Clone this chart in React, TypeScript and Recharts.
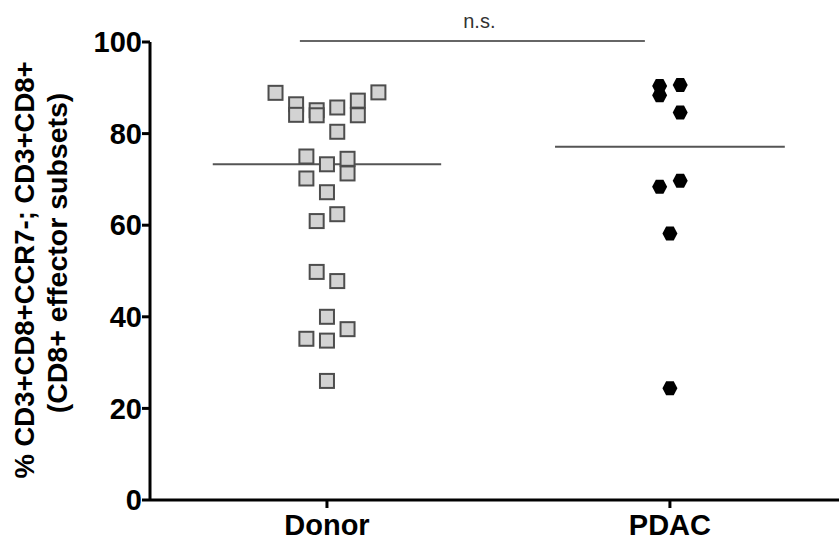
import { ComposedChart, Scatter, XAxis, YAxis, ReferenceLine, Label } from 'recharts'

const categories = ['Donor', 'PDAC']
const yTicks = [0, 20, 40, 60, 80, 100]
const yLabelLines = ['% CD3+CD8+CCR7-; CD3+CD8+', '(CD8+ effector subsets)']
const significance = 'n.s.'

// % values per subject, with the horizontal jitter slot each marker sits in
const donorValues = [
  88.9, 86.4, 84.1, 75.0, 70.2, 35.2, 85.1, 84.0, 60.9, 49.8, 73.3, 67.2, 40.0,
  34.8, 26.0, 85.7, 80.4, 62.4, 47.8, 74.5, 71.3, 37.3, 87.2, 84.0, 89.0,
]
const donorJitter = [-5, -3, -3, -2, -2, -2, -1, -1, -1, -1, 0, 0, 0, 0, 0, 1, 1, 1, 1, 2, 2, 2, 3, 3, 5]

const pdacValues = [90.4, 88.4, 90.6, 84.6, 68.4, 69.7, 58.2, 24.4]
const pdacJitter = [-1, -1, 1, 1, -1, 1, 0, 0]

const JITTER_STEP = 0.03
const FONT = 'Liberation Sans, Arial, Helvetica, sans-serif'

const toPoints = (values: number[], jitter: number[], pos: number) =>
  values.map((v, i) => ({ x: pos + jitter[i] * JITTER_STEP, y: v }))

const median = (values: number[]) => {
  const s = [...values].sort((a, b) => a - b)
  const m = Math.floor(s.length / 2)
  return s.length % 2 ? s[m] : (s[m - 1] + s[m]) / 2
}

const donorData = toPoints(donorValues, donorJitter, 1)
const pdacData = toPoints(pdacValues, pdacJitter, 2)
const donorMedian = median(donorValues)
const pdacMedian = median(pdacValues)

const Square = (props: any) => {
  const { cx, cy } = props
  return <rect x={cx - 7} y={cy - 7} width={14} height={14} fill="#d3d3d3" stroke="#4d4d4d" strokeWidth={2} />
}

const Hexagon = (props: any) => {
  const { cx, cy } = props
  const pts = [
    [cx - 7.5, cy],
    [cx - 3.8, cy - 7],
    [cx + 3.8, cy - 7],
    [cx + 7.5, cy],
    [cx + 3.8, cy + 7],
    [cx - 3.8, cy + 7],
  ]
  return <polygon points={pts.map((p) => p.join(',')).join(' ')} fill="#000" />
}

const YTitle = () => (
  <g fontFamily={FONT} fontWeight="bold" fill="#000">
    <text x={24} y={270} fontSize={27.5} transform="rotate(-90 24 270)" textAnchor="middle" dominantBaseline="central">
      {yLabelLines[0]}
    </text>
    <text x={57} y={253} fontSize={28.5} transform="rotate(-90 57 253)" textAnchor="middle" dominantBaseline="central">
      {yLabelLines[1]}
    </text>
  </g>
)

export default function App() {
  const tickStyle = { fontSize: 29, fontWeight: 'bold', fill: '#000', fontFamily: FONT }
  return (
    <div style={{ position: 'absolute', left: 0, top: 0, background: '#fff' }}>
      <ComposedChart width={839} height={547} margin={{ top: 42, right: 0, bottom: 0, left: 0 }}>
        <XAxis
          type="number"
          dataKey="x"
          domain={[0.484, 2.493]}
          allowDataOverflow
          ticks={[1, 2]}
          tickFormatter={(v: number) => categories[v - 1]}
          height={47}
          axisLine={{ stroke: '#000', strokeWidth: 3 }}
          tickLine={{ stroke: '#000', strokeWidth: 3 }}
          tickSize={8}
          tickMargin={6}
          tick={tickStyle}
        />
        <YAxis
          type="number"
          dataKey="y"
          domain={[0, 100]}
          ticks={yTicks}
          width={150}
          axisLine={{ stroke: '#000', strokeWidth: 3 }}
          tickLine={{ stroke: '#000', strokeWidth: 3 }}
          tickSize={8}
          tickMargin={0}
          tick={tickStyle}
        >
          <Label content={<YTitle />} />
        </YAxis>
        <Scatter data={donorData} shape={<Square />} isAnimationActive={false} />
        <Scatter data={pdacData} shape={<Hexagon />} isAnimationActive={false} />
        <ReferenceLine
          segment={[
            { x: 1 - 0.333, y: donorMedian },
            { x: 1 + 0.333, y: donorMedian },
          ]}
          stroke="#555"
          strokeWidth={2}
        />
        <ReferenceLine
          segment={[
            { x: 2 - 0.335, y: pdacMedian },
            { x: 2 + 0.335, y: pdacMedian },
          ]}
          stroke="#555"
          strokeWidth={2}
        />
        <ReferenceLine
          segment={[
            { x: 0.921, y: 100.2 },
            { x: 1.927, y: 100.2 },
          ]}
          ifOverflow="visible"
          stroke="#333"
          strokeWidth={1.5}
          label={{ value: significance, position: 'top', offset: 13, dx: 7, fill: '#333', fontSize: 20, fontFamily: FONT }}
        />
      </ComposedChart>
    </div>
  )
}
